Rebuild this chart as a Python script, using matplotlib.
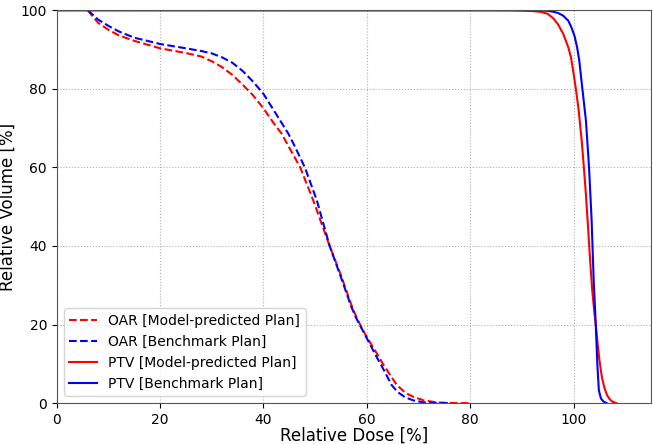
import matplotlib

matplotlib.use("Agg")
import matplotlib.pyplot as plt

# OAR curves (dose %, volume %)
oar_pred_dose = [6, 7, 8, 10, 12, 15, 20, 25, 28, 30, 32, 34, 36, 38, 40, 42, 43.5, 45, 47.1,
                 49.6, 52.8, 55, 57, 58, 59, 60, 62, 63.2, 65.8, 67.5, 69, 71, 73.5, 76, 80]
oar_pred_vol = [100, 98.3, 96.8, 95, 93.6, 92.2, 90.3, 89.1, 88.2, 87.0, 85.5, 83.5, 81, 78.3,
                75, 71.2, 68.6, 65, 60, 51.7, 40, 32.5, 25, 21.8, 19.2, 16.8, 12.5, 9.8, 4.6,
                2.6, 1.6, 0.7, 0.2, 0.05, 0]

oar_bench_dose = [6, 7, 8, 10, 12, 15, 20, 25, 28, 30, 32, 34, 36, 38, 40, 42, 44.8, 46, 48,
                  50.3, 52.8, 55, 57, 58, 59, 60, 62, 62.9, 64.8, 66, 67.4, 69, 70.9, 73, 76]
oar_bench_vol = [100, 98.8, 97.6, 96, 94.6, 93.0, 91.4, 90.3, 89.6, 89.0, 88.0, 86.6, 84.5,
                 81.8, 78.7, 74.5, 68.6, 65.5, 60, 51.7, 40, 32, 24.5, 21.5, 19.0, 16.5, 11.5,
                 9.4, 4.6, 2.8, 1.5, 0.7, 0.2, 0.05, 0]

# PTV curves
ptv_pred_dose = [0, 85, 88, 90, 92, 93.5, 95, 96.1, 97, 98, 99, 99.5, 100, 100.5, 101, 101.6,
                 102, 102.4, 102.8, 103.2, 103.6, 104.0, 104.3, 104.6, 105, 105.5, 106, 106.5,
                 107, 107.5, 108.3]
ptv_pred_vol = [100, 100, 99.97, 99.9, 99.8, 99.6, 99.1, 97.9, 96.4, 94, 90.5, 88, 84, 79.5,
                74.5, 66.5, 60, 53, 45, 36.5, 29, 23.5, 20, 16, 11, 6.5, 3.8, 2, 1, 0.4, 0]

ptv_bench_dose = [0, 90, 93.5, 95, 96.1, 97, 98, 99, 99.6, 100.2, 100.7, 101.1, 101.4, 101.9,
                  102.4, 103.0, 103.5, 103.9, 104.3, 104.6, 104.9, 105.3, 105.8, 106.4]
ptv_bench_vol = [100, 99.98, 99.95, 99.85, 99.6, 99.3, 98.6, 97.3, 95.6, 93.4, 90.5, 87.3,
                 83.7, 77.8, 71.9, 60, 46.6, 31.3, 20, 10.1, 3.3, 1.2, 0.4, 0]

fig = plt.figure(figsize=(6.53, 4.44), dpi=100)
ax = fig.add_axes([0.087, 0.092, 0.910, 0.885])

ax.plot(oar_pred_dose, oar_pred_vol, "--", color="red", lw=1.5, label="OAR [Model-predicted Plan]")
ax.plot(oar_bench_dose, oar_bench_vol, "--", color="blue", lw=1.5, label="OAR [Benchmark Plan]")
ax.plot(ptv_pred_dose, ptv_pred_vol, "-", color="red", lw=1.5, label="PTV [Model-predicted Plan]")
ax.plot(ptv_bench_dose, ptv_bench_vol, "-", color="blue", lw=1.5, label="PTV [Benchmark Plan]")

ax.set_xlim(0, 115)
ax.set_ylim(0, 100)
ax.set_xticks([0, 20, 40, 60, 80, 100])
ax.set_yticks([0, 20, 40, 60, 80, 100])
ax.tick_params(labelsize=10)
ax.grid(True, linestyle=":", color="#b0b0b0", linewidth=0.8)
for s in ax.spines.values():
    s.set_color("#555555")

ax.set_xlabel("Relative Dose [%]", fontsize=12, labelpad=0)
ax.set_ylabel("Relative Volume [%]", fontsize=12, labelpad=3)
ax.legend(loc="lower left", fontsize=10)

fig.savefig("out.png", dpi=100)
